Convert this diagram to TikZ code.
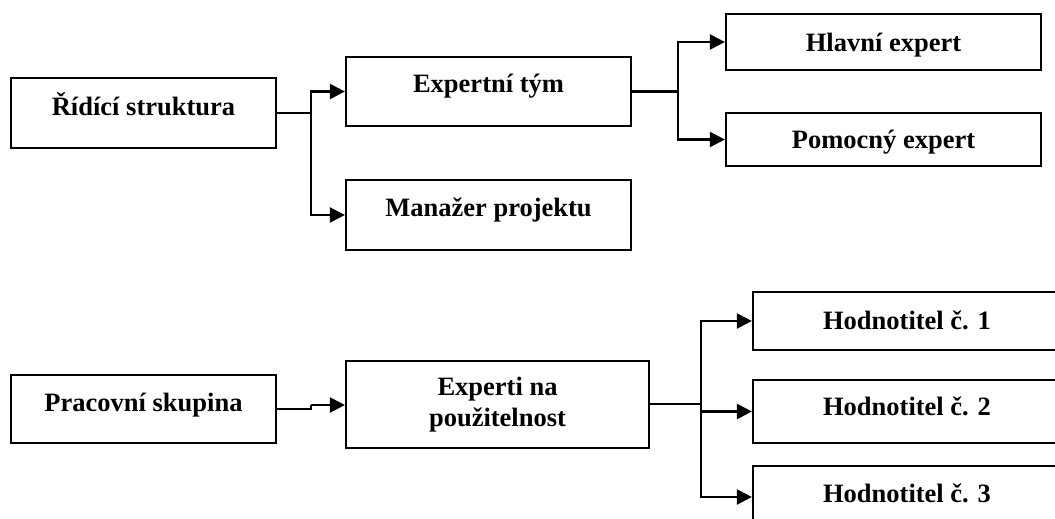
\documentclass[tikz,border=0pt]{standalone}
\usepackage{fontspec}
\setmainfont{Liberation Serif}
\usetikzlibrary{arrows.meta}

\begin{document}
\begin{tikzpicture}[x=1pt,y=-1pt,
  box/.style={draw, line width=2.2pt, inner sep=0pt, rectangle},
  lbl/.style={anchor=base, inner sep=0pt, font=\fontsize{26.5}{30}\selectfont\bfseries},
  link/.style={line width=2.2pt, -{Triangle[length=15pt,width=15pt]}},
  plain/.style={line width=2.2pt}
]
\useasboundingbox (0,0) rectangle (1055,519);
\clip (0,0) rectangle (1055,519);

% boxes: centre and size
\node[box, minimum width=265pt, minimum height=70pt] (rid) at (143.5,113) {};
\node[box, minimum width=285pt, minimum height=69pt] (ext) at (488.5,91.5) {};
\node[box, minimum width=285pt, minimum height=70pt] (man) at (488.5,215) {};
\node[box, minimum width=315pt, minimum height=56pt] (hla) at (883.5,42) {};
\node[box, minimum width=315pt, minimum height=53pt] (pom) at (883.5,139.5) {};

\node[box, minimum width=265pt, minimum height=68pt] (pra) at (143.5,409) {};
\node[box, minimum width=303pt, minimum height=87pt] (exp) at (497.5,404.5) {};
\node[box, minimum width=308pt, minimum height=58pt] (h1) at (907,321) {};
\node[box, minimum width=308pt, minimum height=63pt] (h2) at (907,411.5) {};
\node[box, minimum width=308pt, minimum height=62pt] (h3) at (907,497) {};

% labels
\node[lbl] (trid) at (143.5,115) {Řídící struktura};
\node[lbl] (text) at (488.5,92.7) {Expertní tým};
\node[lbl] (tman) at (488.5,216.7) {Manažer projektu};
\node[lbl] (thla) at (883.5,51.7) {Hlavní expert};
\node[lbl] (tpom) at (883.5,148.3) {Pomocný expert};
\node[lbl] (tpra) at (143.5,411.7) {Pracovní skupina};
\node[lbl] (texp1) at (497.5,395.7) {Experti na};
\node[lbl] (texp2) at (497.5,426.7) {použitelnost};
\node[lbl] (th1) at (907,329) {Hodnotitel č. 1};
\node[lbl] (th2) at (907,415.7) {Hodnotitel č. 2};
\node[lbl] (th3) at (907,502.3) {Hodnotitel č. 3};

% branch points
\coordinate (j1) at (311,113);
\coordinate (j2) at (678,91.5);
\coordinate (j3) at (311,405);
\coordinate (j4) at (701,404);

% upper tree
\draw[plain] (rid.east) -- (j1);
\draw[link] (j1) |- (ext.west);
\draw[link] (j1) |- (man.west);
\draw[plain] (ext.east) -- (j2);
\draw[link] (j2) |- (hla.west);
\draw[link] (j2) |- (pom.west);

% lower tree
\draw[plain] (pra.east) -- (j3 |- pra.east) -- (j3);
\draw[link] (j3) -- (exp.west |- j3);
\draw[plain] (exp.east |- j4) -- (j4);
\draw[link] (j4) |- (h1.west);
\draw[link] (j4 |- h2.west) -- (h2.west);
\draw[link] (j4) |- (h3.west);
\end{tikzpicture}
\end{document}
